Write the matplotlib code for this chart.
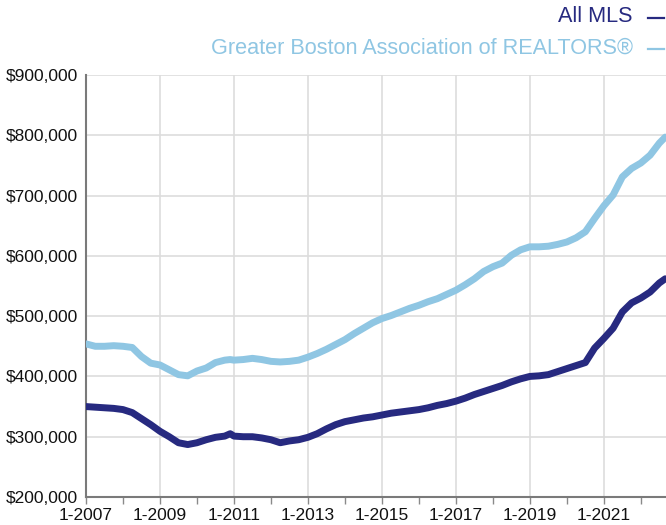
import matplotlib
matplotlib.use("Agg")
import matplotlib.pyplot as plt
from matplotlib.lines import Line2D
from matplotlib.ticker import FuncFormatter, MultipleLocator, FixedLocator

plt.rcParams['font.family'] = ['Liberation Sans', 'DejaVu Sans']

# decimal years
dates = [2007.0, 2007.25, 2007.5, 2007.75, 2008.0, 2008.25, 2008.5, 2008.75,
         2009.0, 2009.25, 2009.5, 2009.75, 2010.0, 2010.25, 2010.5, 2010.75,
         2010.9, 2011.0, 2011.25, 2011.5, 2011.75, 2012.0, 2012.25, 2012.5, 2012.75,
         2013.0, 2013.25, 2013.5, 2013.75, 2014.0, 2014.25, 2014.5, 2014.75,
         2015.0, 2015.25, 2015.5, 2015.75, 2016.0, 2016.25, 2016.5, 2016.75,
         2017.0, 2017.25, 2017.5, 2017.75, 2018.0, 2018.25, 2018.5, 2018.75,
         2019.0, 2019.25, 2019.5, 2019.75, 2020.0, 2020.25, 2020.5, 2020.75,
         2021.0, 2021.25, 2021.5, 2021.75, 2022.0, 2022.25, 2022.5, 2022.66]

all_mls = [350, 349, 348, 347, 345, 340, 330, 320,
           309, 300, 290, 287, 290, 295, 299, 301,
           305, 301, 300, 300, 298, 295, 290, 293, 295,
           299, 305, 313, 320, 325, 328, 331, 333,
           336, 339, 341, 343, 345, 348, 352, 355,
           359, 364, 370, 375, 380, 385, 391, 396,
           400, 401, 403, 408, 413, 418, 423, 447,
           463, 480, 507, 522, 530, 540, 555, 562]

gbar = [454, 450, 450, 451, 450, 448, 433, 422,
        419, 411, 403, 401, 409, 414, 423, 427,
        428, 427, 428, 430, 428, 425, 424, 425, 427,
        432, 438, 445, 453, 461, 471, 480, 489,
        496, 501, 507, 513, 518, 524, 529, 536,
        543, 552, 562, 574, 582, 588, 601, 610,
        615, 615, 616, 619, 623, 630, 640, 662,
        683, 701, 731, 745, 754, 767, 787, 797]

year_labels = [2007, 2009, 2011, 2013, 2015, 2017, 2019, 2021]

dark = '#272a80'
light = '#8fc6e3'

fig = plt.figure(figsize=(6.66, 5.25), dpi=100)
ax = fig.add_axes([86/666, 28/525, 1 - 86/666, (497-75)/525])

ax.plot(dates, [v*1000 for v in gbar], color=light, lw=5, solid_capstyle='round', solid_joinstyle='round', zorder=3)
ax.plot(dates, [v*1000 for v in all_mls], color=dark, lw=5, solid_capstyle='round', solid_joinstyle='round', zorder=4)

ax.set_xlim(2007, 2022.68)
ax.set_ylim(200000, 900000)
ax.yaxis.set_major_locator(MultipleLocator(100000))
ax.yaxis.set_major_formatter(FuncFormatter(lambda v, p: f"${v:,.0f}"))
ax.xaxis.set_major_locator(FixedLocator(year_labels))
ax.xaxis.set_minor_locator(MultipleLocator(1))
ax.xaxis.set_major_formatter(FuncFormatter(lambda v, p: f"1-{int(round(v))}"))

ax.grid(True, which='major', color='#dddddd', lw=1.2, zorder=0)
ax.set_axisbelow(True)
for s in ['top', 'right']:
    ax.spines[s].set_visible(False)
for s in ['left', 'bottom']:
    ax.spines[s].set_color('#7a7a7a')
    ax.spines[s].set_linewidth(1.5)
ax.tick_params(axis='y', length=0, pad=5.5, labelsize=12.5, labelcolor='#111111')
ax.tick_params(axis='x', which='both', length=5, width=1, color='#8a8a8a', direction='out',
               pad=3, labelsize=12.5, labelcolor='#111111')

fig.text(633/666, 1 - 17/525, "All MLS", ha='right', va='center', fontsize=15.6, color=dark)
fig.text(633/666, 1 - 48/525, "Greater Boston Association of REALTORS\u00ae", ha='right', va='center', fontsize=15.6, color=light)
for yy, c in [(17, dark), (48, light)]:
    fig.add_artist(Line2D([648/666, 664/666], [1 - (yy+1)/525, 1 - (yy+1)/525],
                          transform=fig.transFigure, color=c, lw=1.6))

fig.savefig("out.png", dpi=100)
